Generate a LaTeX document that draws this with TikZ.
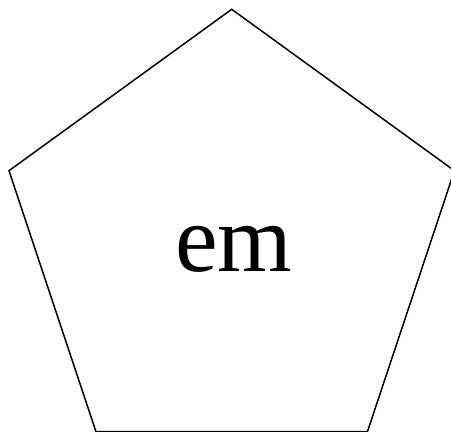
\documentclass[tikz,border=0pt]{standalone}
\usepackage{fontspec}
\setmainfont{Liberation Serif}
\begin{document}
\begin{tikzpicture}[x=1pt,y=1pt,
  edge/.style={draw=black,line width=1.5pt,line join=miter},
  label/.style={font=\fontsize{96}{96}\selectfont,inner sep=0pt}]
\useasboundingbox (0,0) rectangle (451,432);
\coordinate (t) at (231.7,422.7);
\coordinate (l) at (9,261.3);
\coordinate (r) at (454.4,261.3);
\coordinate (bl) at (96,0.3);
\coordinate (br) at (367.4,0.3);
\draw[edge] (t) -- (r) -- (br) -- (bl) -- (l) -- cycle;
\node[label,anchor=base] (em) at (234,160) {em};
\end{tikzpicture}
\end{document}
